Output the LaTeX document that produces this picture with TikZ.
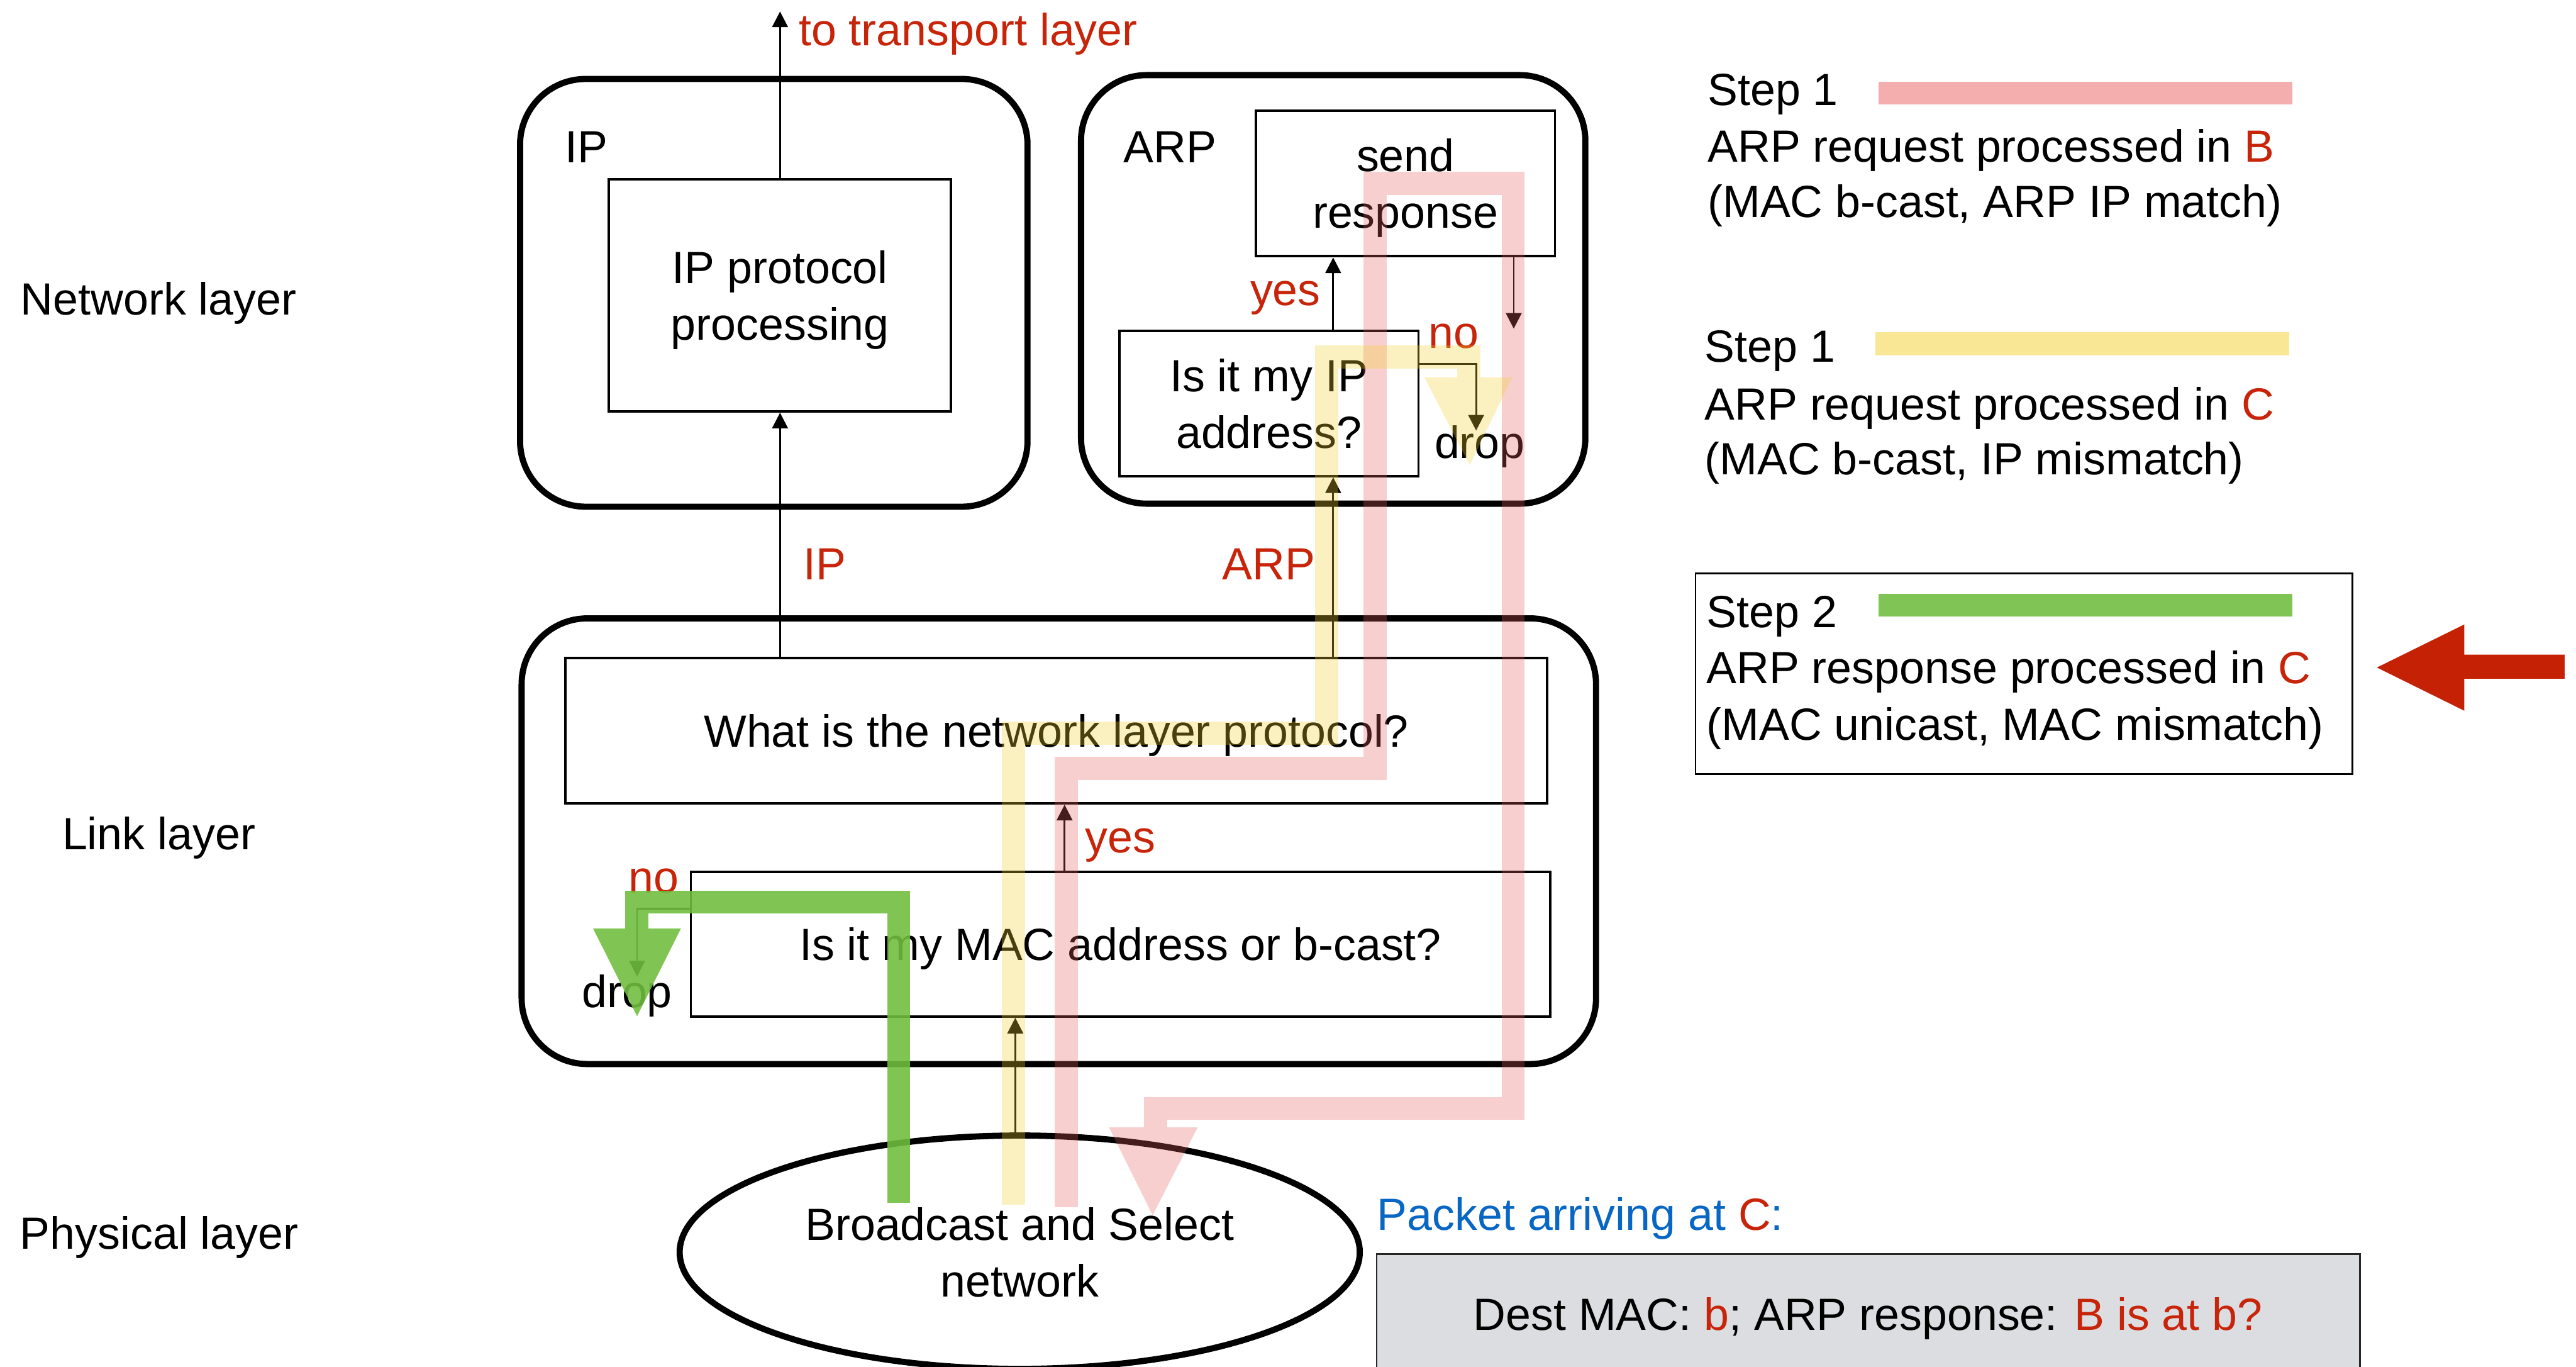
\documentclass[tikz,border=0pt]{standalone}
\usepackage{fontspec}
\setmainfont{Liberation Sans}
\usetikzlibrary{arrows.meta,shapes.geometric,calc}

% one unit of the drawing grid
\newcommand{\upx}{0.026224cm}

\definecolor{txtred}{RGB}{200,36,10}
\definecolor{arrred}{RGB}{196,33,5}
\definecolor{pktblue}{RGB}{8,102,196}
\definecolor{hlpink}{RGB}{228,95,95}
\definecolor{hlyellow}{RGB}{242,210,48}
\definecolor{hlgreen}{RGB}{112,190,62}
\definecolor{barpink}{RGB}{244,174,174}
\definecolor{baryellow}{RGB}{249,231,150}
\definecolor{bargreen}{RGB}{128,196,85}
\definecolor{pktgray}{RGB}{220,221,224}

\begin{document}
\begin{tikzpicture}[x=0.026224cm, y=-0.026224cm,
  font=\fontsize{20.5}{25.7}\selectfont,
  layerbox/.style={draw, line width=2.8pt, rounded corners=40*\upx, inner sep=0},
  qbox/.style={draw, line width=1.1pt, inner sep=0, align=center, text depth=0pt},
  lbl/.style={inner sep=0, anchor=base},
  lblw/.style={inner sep=0, anchor=base west},
  redlbl/.style={lbl, text=txtred},
  flow/.style={line width=0.8pt, -{Triangle[length=0.25cm, width=0.25cm]}},
  hl/.style={line width=14*\upx, line join=miter},
  hltip/.style={},
]
\useasboundingbox (0,0) rectangle (1568,831.7);

% ---- layer labels
\node[lbl] (netlayer)  at (96.5,191.5) {Network layer};
\node[lbl] (linklayer) at (96.7,517)   {Link layer};
\node[lbl] (phylayer)  at (96.9,760)   {Physical layer};

% ---- protocol containers
\node[layerbox, minimum width=308.9*\upx, minimum height=260.3*\upx] (ipbox)   at (471,178.2) {};
\node[layerbox, minimum width=307*\upx,   minimum height=260.8*\upx] (arpbox)  at (811.5,176.1) {};
\node[layerbox, minimum width=654*\upx,   minimum height=271.2*\upx] (linkbox) at (644.5,511.9) {};
\node[lblw] (iptitle)  at (343.6,98.8) {IP};
\node[lblw] (arptitle) at (683.8,98.8) {ARP};

% ---- processing steps
\node[qbox, minimum width=208.3*\upx, minimum height=141.4*\upx] (ipproc)   at (474.8,179.7) {IP protocol\\processing};
\node[qbox, minimum width=182*\upx,   minimum height=88.7*\upx]  (sendresp) at (855.5,111.6) {send\\response};
\node[qbox, minimum width=182*\upx,   minimum height=88.5*\upx]  (ipq)      at (772.4,245.5) {Is it my IP\\address?};
\node[qbox, minimum width=597.5*\upx, minimum height=88.5*\upx]  (protoq)   at (643,444.7)   {What is the network layer protocol?};
\node[qbox, minimum width=523*\upx,   minimum height=88*\upx]    (macq)     at (682,574.6)   {Is it my MAC address or b-cast?};
\node[draw, ellipse, line width=2.8pt, inner sep=0, align=center, text depth=0pt,
      minimum width=414*\upx, minimum height=142*\upx] (bcast) at (620.7,762) {Broadcast and Select\\network};

% ---- connector helpers
\coordinate (tl)      at (474.8,7);
\coordinate (arpx)    at (811.5,0);
\coordinate (srdown)  at (921.4,200);
\coordinate (ipdrop)  at (898.5,262);
\coordinate (yesx)    at (648,0);
\coordinate (macdrop) at (387.8,594.2);
\coordinate (netx)    at (618,0);

% ---- flow arrows
\draw[flow] (ipproc.north) -- (tl);
\draw[flow] (ipproc.south |- protoq.north) -- (ipproc.south);
\draw[flow] (arpx |- protoq.north) -- (arpx |- ipq.south);
\draw[flow] (arpx |- ipq.north) -- (arpx |- sendresp.south);
\draw[flow] (srdown |- sendresp.south) -- (srdown);
\draw[flow] ($(ipq.north east)+(0,21)$) -| (ipdrop);
\draw[flow] (yesx |- macq.north) -- (yesx |- protoq.south);
\draw[flow] ($(macq.north west)+(0,23)$) -| (macdrop);
\draw[flow] (netx |- bcast.north) -- (netx |- macq.south);

% ---- arrow labels
\node[lblw, text=txtred] (totrans) at (486,27.7) {to transport layer};
\node[redlbl] (lblip)   at (502,352.7)   {IP};
\node[redlbl] (lblarp)  at (772.3,352.7) {ARP};
\node[redlbl] (yes1)    at (782.4,186)   {yes};
\node[redlbl] (no1)     at (885,212)     {no};
\node[lbl]    (drop1)   at (900.7,279)   {drop};
\node[redlbl] (yes2)    at (682,519)     {yes};
\node[redlbl] (no2)     at (398,543.5)   {no};
\node[lbl]    (drop2)   at (381.7,613)   {drop};

% ---- legend
\node[lblw] (s1a) at (1039.2,64.3)  {Step 1};
\node[lblw] (s1b) at (1039.2,98.4)  {ARP request processed in \textcolor{txtred}{B}};
\node[lblw] (s1c) at (1039.2,132.4) {(MAC b-cast, ARP IP match)};
\fill[barpink] (1143.3,49.7) rectangle (1395.4,63.7);

\node[lblw] (s2a) at (1037.4,220.4) {Step 1};
\node[lblw] (s2b) at (1037.4,255.4) {ARP request processed in \textcolor{txtred}{C}};
\node[lblw] (s2c) at (1037.4,289)   {(MAC b-cast, IP mismatch)};
\fill[baryellow] (1141.5,202.3) rectangle (1393.5,216.3);

\node[draw, line width=0.75pt, minimum width=400*\upx, minimum height=122*\upx, inner sep=0] (stepbox) at (1232,410) {};
\node[lblw] (s3a) at (1038.5,381.7) {Step 2};
\node[lblw] (s3b) at (1038.5,415.9) {ARP response processed in \textcolor{txtred}{C}};
\node[lblw] (s3c) at (1038.5,450.3) {(MAC unicast, MAC mismatch)};
\fill[bargreen] (1143.3,361.3) rectangle (1395.4,375.3);

% pointer to the current step
\fill[arrred] (1446.8,406.2) -- (1500,380) -- (1500,398.4) -- (1561,398.4)
  -- (1561,413) -- (1500,413) -- (1500,432.5) -- cycle;

% ---- packet
\node[lblw, text=pktblue] (pkttitle) at (838,748.6) {Packet arriving at \textcolor{txtred}{C}:};
\fill[pktgray] (838,763) rectangle (1436.6,831.7);
\draw[black!85, line width=0.8pt] (838,831.7) -- (838,763) -- (1436.6,763) -- (1436.6,831.7);
\node[lbl] (pkt) at (1137,809.6) {Dest MAC: \textcolor{txtred}{b}; ARP response: \textcolor{txtred}{B is at b?}};

% ---- highlighted packet paths
\begin{scope}[opacity=0.3]
  \draw[hl, hlpink] (649,734.5) -- (649,467.5) -- (837,467.5) -- (837,111.5)
    -- (921,111.5) -- (921,674.5) -- (703.5,674.5) -- (703.5,686);
  \fill[hlpink] (675,686) -- (729,686) -- (701.6,739.5) -- cycle;
  \draw[hl, hlyellow] (617,733) -- (617,446.2) -- (807.5,446.2) -- (807.5,217.3)
    -- (894,217.3) -- (894,229.6);
  \fill[hlyellow] (867,229.6) -- (920.5,229.6) -- (894.6,283) -- cycle;
\end{scope}
\begin{scope}[opacity=0.89]
  \draw[hl, hlgreen] (547,732) -- (547,549) -- (387.5,549) -- (387.5,565);
  \fill[hlgreen] (361,565) -- (414.5,565) -- (387.8,618.4) -- cycle;
\end{scope}
\end{tikzpicture}
\end{document}
